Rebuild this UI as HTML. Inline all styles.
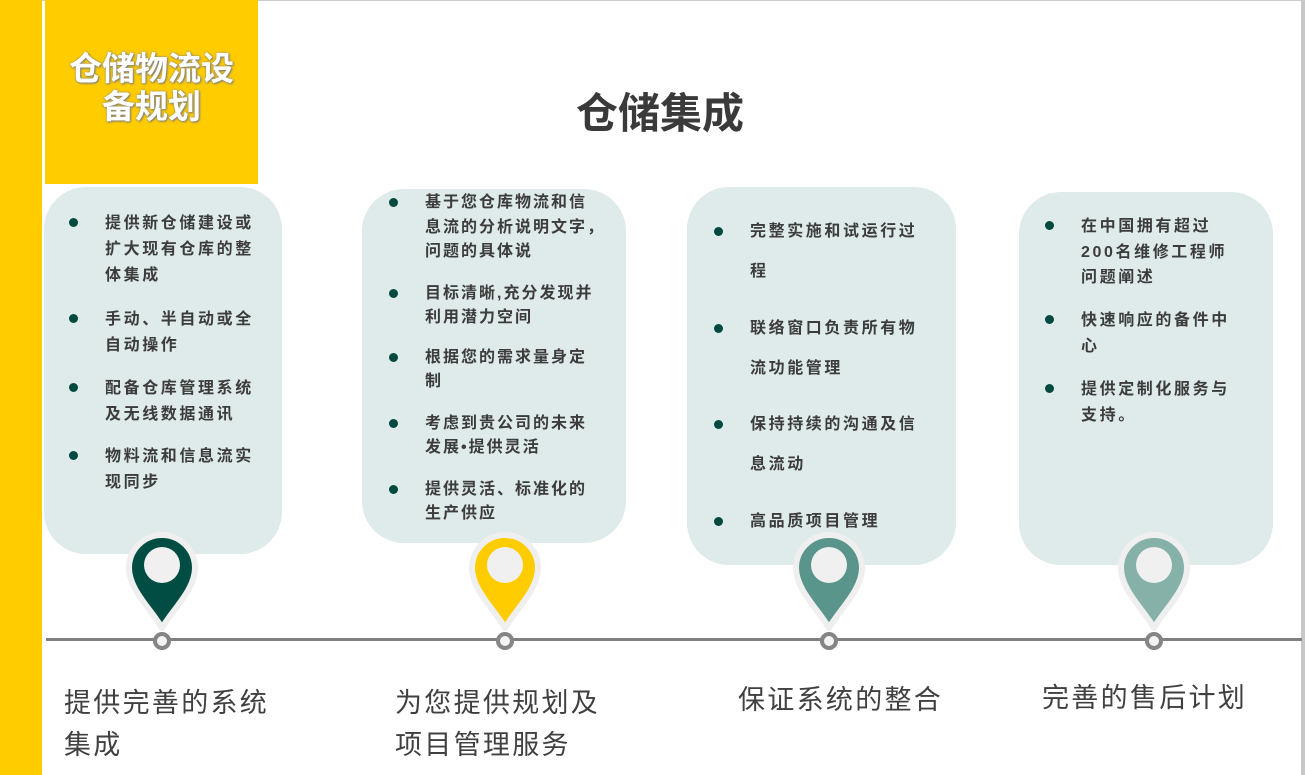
<!DOCTYPE html>
<html><head><meta charset="utf-8"><style>
body{margin:0;width:1305px;height:775px;position:relative;overflow:hidden;background:#fff;font-family:"Liberation Sans","Noto Sans CJK SC",sans-serif}
.a{position:absolute}
.box{position:absolute;background:#dfeaea;border-radius:42px}
.t{position:absolute;font-size:16px;font-weight:bold;color:#3c3c3c;letter-spacing:2.6px;line-height:24px;white-space:nowrap}
.d{position:absolute;width:9px;height:9px;border-radius:50%;background:#024a40}
.b{position:absolute;font-size:27px;color:#404040;letter-spacing:2.3px;line-height:36px;white-space:nowrap}
</style></head><body>
<div class="a" style="left:0;top:0;width:1305px;height:1px;background:#ccc"></div>
<div class="a" style="left:1301px;top:0;width:4px;height:775px;background:#c8c8c8"></div>
<div class="a" style="left:0;top:0;width:42px;height:775px;background:#ffcc00"></div>
<div class="a" style="left:45px;top:0;width:213px;height:184px;background:#ffcc00"></div>
<div class="a" style="left:45px;top:50px;width:213px;text-align:center;font-size:33px;font-weight:bold;color:#fff;line-height:38px;text-shadow:0 0 2px #888,1px 1px 2px #777">仓储物流设<br>备规划</div>
<div class="a" style="left:555px;top:86px;width:210px;text-align:center;font-size:42px;font-weight:bold;color:#3a3a3a;line-height:56px">仓储集成</div>

<div class="box" style="left:44px;top:187px;width:238px;height:367px"></div>
<div class="box" style="left:362px;top:189px;width:264px;height:354px"></div>
<div class="box" style="left:687px;top:187px;width:269px;height:378px"></div>
<div class="box" style="left:1019px;top:192px;width:254px;height:373px"></div>

<div class="d" style="left:69px;top:218px"></div>
<div class="t" style="left:105px;top:211px;line-height:26px">提供新仓储建设或<br>扩大现有仓库的整<br>体集成</div>
<div class="d" style="left:69px;top:314px"></div>
<div class="t" style="left:105px;top:307px;line-height:26px">手动、半自动或全<br>自动操作</div>
<div class="d" style="left:69px;top:383px"></div>
<div class="t" style="left:105px;top:376px;line-height:26px">配备仓库管理系统<br>及无线数据通讯</div>
<div class="d" style="left:69px;top:451px"></div>
<div class="t" style="left:105px;top:444px;line-height:26px">物料流和信息流实<br>现同步</div>

<div class="d" style="left:389px;top:198px"></div>
<div class="t" style="left:425px;top:191px;line-height:24.5px;letter-spacing:2px">基于您仓库物流和信<br>息流的分析说明文字，<br>问题的具体说</div>
<div class="d" style="left:389px;top:289px"></div>
<div class="t" style="left:425px;top:282px;letter-spacing:2px">目标清晰,充分发现并<br>利用潜力空间</div>
<div class="d" style="left:389px;top:353px"></div>
<div class="t" style="left:425px;top:346px;letter-spacing:2px">根据您的需求量身定<br>制</div>
<div class="d" style="left:389px;top:419px"></div>
<div class="t" style="left:425px;top:412px;letter-spacing:2px">考虑到贵公司的未来<br>发展•提供灵活</div>
<div class="d" style="left:389px;top:485px"></div>
<div class="t" style="left:425px;top:478px;letter-spacing:2px">提供灵活、标准化的<br>生产供应</div>

<div class="d" style="left:714px;top:227px"></div>
<div class="t" style="left:750px;top:212px;line-height:40px">完整实施和试运行过<br>程</div>
<div class="d" style="left:714px;top:324px"></div>
<div class="t" style="left:750px;top:309px;line-height:40px">联络窗口负责所有物<br>流功能管理</div>
<div class="d" style="left:714px;top:420px"></div>
<div class="t" style="left:750px;top:405px;line-height:40px">保持持续的沟通及信<br>息流动</div>
<div class="d" style="left:714px;top:517px"></div>
<div class="t" style="left:750px;top:502px;line-height:40px">高品质项目管理</div>

<div class="d" style="left:1045px;top:221px"></div>
<div class="t" style="left:1081px;top:214px;line-height:25.5px">在中国拥有超过<br>200名维修工程师<br>问题阐述</div>
<div class="d" style="left:1045px;top:315px"></div>
<div class="t" style="left:1081px;top:308px;line-height:26px">快速响应的备件中<br>心</div>
<div class="d" style="left:1045px;top:384px"></div>
<div class="t" style="left:1081px;top:377px;line-height:26px">提供定制化服务与<br>支持。</div>

<div class="a" style="left:46px;top:638px;width:1256px;height:3px;background:#808080"></div>

<svg class="a" style="left:0;top:0" width="1305" height="775">
<defs>
<g id="pin">
<path d="M0,-48 C-10,-66 -33,-86 -33,-108 A33,33 0 1 1 33,-108 C33,-86 10,-66 0,-48 Z" stroke="#efefef" stroke-width="6" stroke-linejoin="round"/>
<circle cx="0" cy="-111" r="18" fill="#f0f0f0"/>
</g>
</defs>
<g transform="translate(162,676)" fill="#024d43"><use href="#pin"/></g>
<g transform="translate(505,676)" fill="#ffcc00"><use href="#pin"/></g>
<g transform="translate(829,676)" fill="#5a958b"><use href="#pin"/></g>
<g transform="translate(1154,676)" fill="#86b1a9"><use href="#pin"/></g>
<g fill="#f4f4f4" stroke="#858585" stroke-width="4">
<circle cx="162" cy="641" r="7"/><circle cx="505" cy="641" r="7"/><circle cx="829" cy="641" r="7"/><circle cx="1154" cy="641" r="7"/>
</g>
</svg>

<div class="b" style="left:64px;top:682px;line-height:42px">提供完善的系统<br>集成</div>
<div class="b" style="left:395px;top:682px;line-height:42px">为您提供规划及<br>项目管理服务</div>
<div class="b" style="left:738px;top:682px">保证系统的整合</div>
<div class="b" style="left:1042px;top:680px">完善的售后计划</div>
</body></html>
